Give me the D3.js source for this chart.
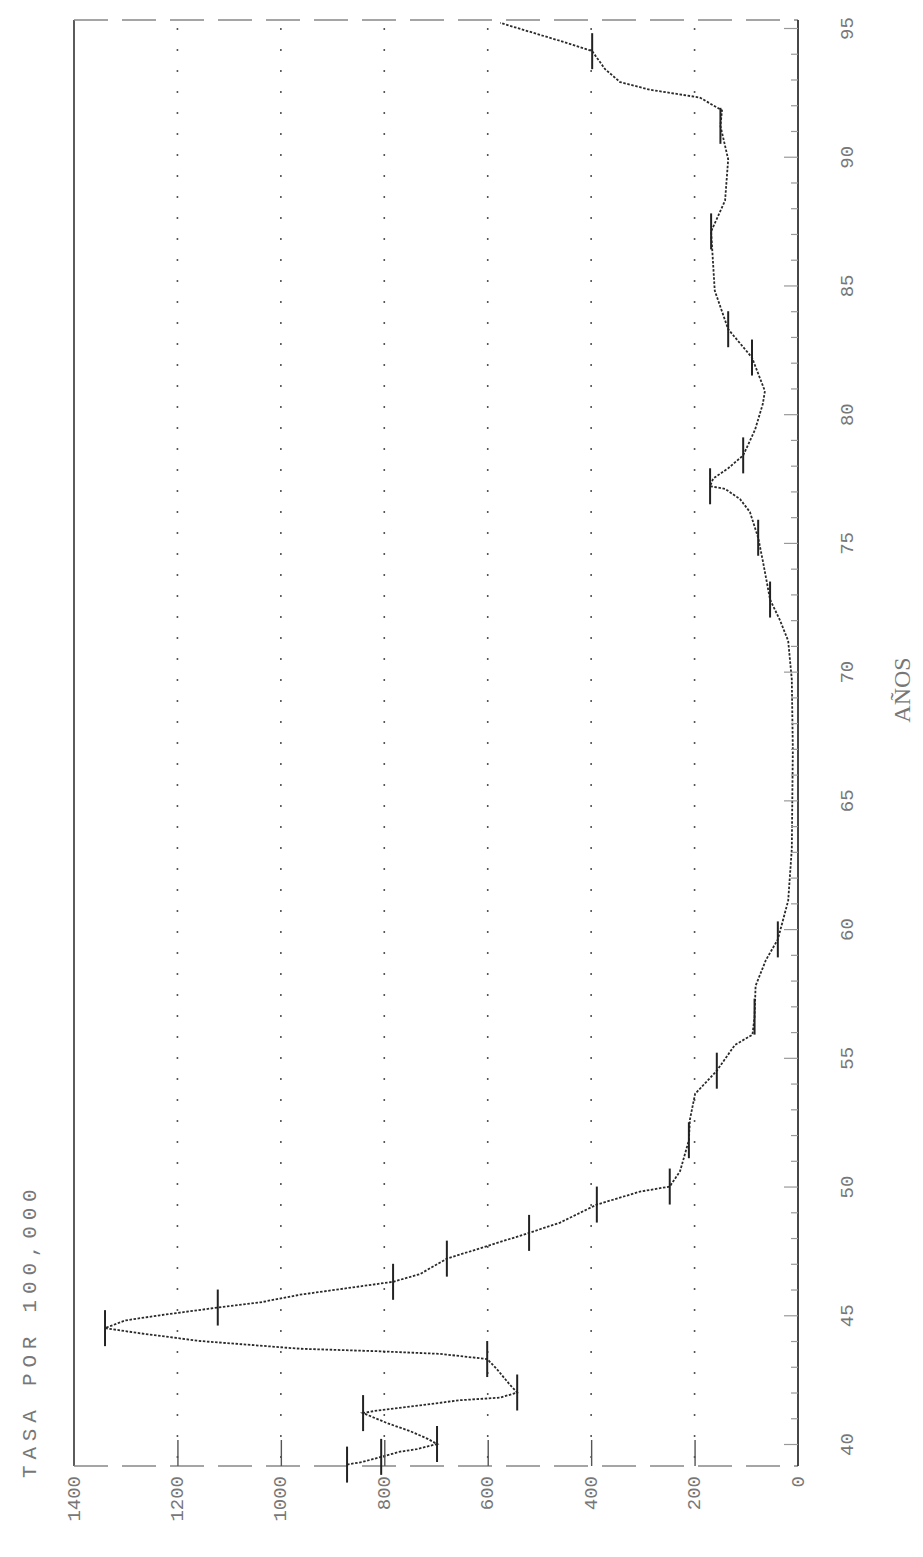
<!DOCTYPE html>
<html>
<head>
<meta charset="utf-8">
<script src="https://cdn.jsdelivr.net/npm/d3@7"></script>
<style>
  body { margin: 0; background: #fff; }
  svg { display: block; }
</style>
</head>
<body>
<svg id="chart" width="923" height="1557"></svg>
<script>
// Rate per 100,000 by year (decimal years, 1939–1995)
const years = [39.2,39.3,39.5,39.7,39.8,40.0,40.2,40.5,40.8,41.2,41.3,41.5,41.7,41.8,42.0,42.3,42.9,43.3,43.5,43.6,
  43.7,44.0,44.3,44.5,44.8,45.0,45.3,45.5,45.8,46.3,46.6,47.2,47.6,48.2,48.6,49.3,49.8,50.0,50.6,51.8,
  52.6,53.6,54.5,55.5,55.9,56.6,57.8,58.8,59.6,61.1,63.1,67.0,69.7,71.2,72.0,72.8,74.3,75.2,76.2,76.7,
  77.1,77.2,77.5,77.9,78.4,79.4,80.4,80.9,82.2,83.3,84.8,87.1,88.3,89.9,91.2,91.8,92.3,92.6,92.9,93.4,
  94.1,94.5,95.2];
const rates = [872,843,806,770,737,698,716,750,793,841,814,731,654,576,543,557,582,601,692,808,
  963,1156,1272,1340,1301,1234,1122,1040,963,783,731,679,615,520,460,389,306,248,228,211,
  209,199,157,122,88,84,82,62,39,19,12,10,12,19,35,54,68,77,93,112,
  141,170,164,135,106,83,68,64,89,135,161,168,141,135,150,147,190,286,344,373,
  398,460,576];

// Points carrying a dash marker
const markYears = [39.2,39.5,40.0,41.2,42.0,43.3,44.5,45.3,46.3,47.2,48.2,49.3,50.0,51.8,54.5,56.6,59.6,
  72.8,75.2,77.2,78.4,82.2,83.3,87.1,91.2,94.1];
const markRates = [872,806,698,841,543,601,1340,1122,783,679,520,389,248,211,157,84,39,
  54,77,170,106,89,135,168,150,398];

const yearTicks = [40,45,50,55,60,65,70,75,80,85,90,95];
const rateTicks = [0,200,400,600,800,1000,1200,1400];
const titleText = "TASA POR 100,000";
const yearTitle = "AÑOS";

const svg = d3.select("#chart");
const L = 74, R = 798, T = 20, B = 1466;

// The plot is laid out turned a quarter: years run bottom→top, rates run right→left
const x = d3.scaleLinear().domain([0, 1400]).range([R, L]);
const y = d3.scaleLinear().domain([40, 95]).range([1444, 28]);

const g = svg.append("g");

// dotted value grid
g.selectAll("line.grid").data(rateTicks.filter(v => v > 0 && v < 1400)).join("line")
  .attr("class", "grid")
  .attr("x1", d => x(d)).attr("x2", d => x(d))
  .attr("y1", T + 8).attr("y2", B)
  .attr("stroke", "#555").attr("stroke-width", 1.6)
  .attr("stroke-dasharray", "2,19");

// frame
g.append("line").attr("x1", L).attr("x2", L).attr("y1", T).attr("y2", B)
  .attr("stroke", "#333").attr("stroke-width", 1.6);
g.append("line").attr("x1", L).attr("x2", R).attr("y1", T).attr("y2", T)
  .attr("stroke", "#888").attr("stroke-width", 1.4).attr("stroke-dasharray", "34,14");
g.append("line").attr("x1", L).attr("x2", R).attr("y1", B).attr("y2", B)
  .attr("stroke", "#888").attr("stroke-width", 1.4).attr("stroke-dasharray", "34,14");

// year axis (right edge)
const yearAxis = d3.axisRight(y)
  .tickValues(d3.range(40, 96, 1))
  .tickSizeInner(-8).tickSizeOuter(0)
  .tickFormat(d => yearTicks.includes(d) ? String(d) : "");
const ya = svg.append("g").attr("transform", `translate(${R},0)`).call(yearAxis);
ya.select(".domain").attr("stroke", "#333").attr("stroke-width", 1.8)
  .attr("d", `M0,${T}V${B}`);
ya.selectAll(".tick line").attr("stroke", "#999").attr("stroke-width", 1.2)
  .attr("x2", d => yearTicks.includes(d) ? -14 : -7);
ya.selectAll(".tick text")
  .attr("x", 0).attr("dy", 0)
  .attr("transform", "translate(50,0) rotate(-90)")
  .attr("text-anchor", "middle").attr("dominant-baseline", "central")
  .attr("fill", "#777")
  .style("font-family", "'Liberation Mono', 'DejaVu Sans Mono', monospace")
  .style("font-size", "19px");

// rate axis (bottom edge)
const rateAxis = d3.axisBottom(x).tickValues(rateTicks)
  .tickFormat(d => String(d))
  .tickSizeInner(-26).tickSizeOuter(0);
const ra = svg.append("g").attr("transform", `translate(0,${B})`).call(rateAxis);
ra.select(".domain").remove();
ra.selectAll(".tick line").attr("stroke", "#555").attr("stroke-width", 1.4)
  .attr("display", d => (d === 0 || d === 1400) ? "none" : null);
ra.selectAll(".tick text")
  .attr("y", 0).attr("dy", 0)
  .attr("transform", "translate(0,10) rotate(-90)")
  .attr("text-anchor", "end").attr("dominant-baseline", "central")
  .attr("fill", "#777")
  .style("font-family", "'Liberation Mono', 'DejaVu Sans Mono', monospace")
  .style("font-size", "19px");

// series line
const line = d3.line().x((d, i) => x(rates[i])).y((d, i) => y(years[i]));
g.append("path").datum(years).attr("d", line)
  .attr("fill", "none").attr("stroke", "#2a2a2a").attr("stroke-width", 1.8)
  .attr("stroke-dasharray", "2.5,1.6");

// dash markers
g.selectAll("line.mark").data(markYears).join("line")
  .attr("class", "mark")
  .attr("x1", (d, i) => x(markRates[i])).attr("x2", (d, i) => x(markRates[i]))
  .attr("y1", d => y(d) - 18).attr("y2", d => y(d) + 18)
  .attr("stroke", "#222").attr("stroke-width", 2);

// titles
svg.append("text")
  .attr("transform", "translate(30,1478) rotate(-90)")
  .attr("text-anchor", "start").attr("dominant-baseline", "central")
  .attr("fill", "#777")
  .style("font-family", "'Liberation Mono', 'DejaVu Sans Mono', monospace")
  .style("font-size", "21px").style("letter-spacing", "5.8px")
  .text(titleText);

svg.append("text")
  .attr("transform", "translate(902,690) rotate(-90)")
  .attr("text-anchor", "middle").attr("dominant-baseline", "central")
  .attr("fill", "#777")
  .style("font-family", "'Liberation Serif', serif")
  .style("font-size", "24px")
  .text(yearTitle);
</script>
</body>
</html>
